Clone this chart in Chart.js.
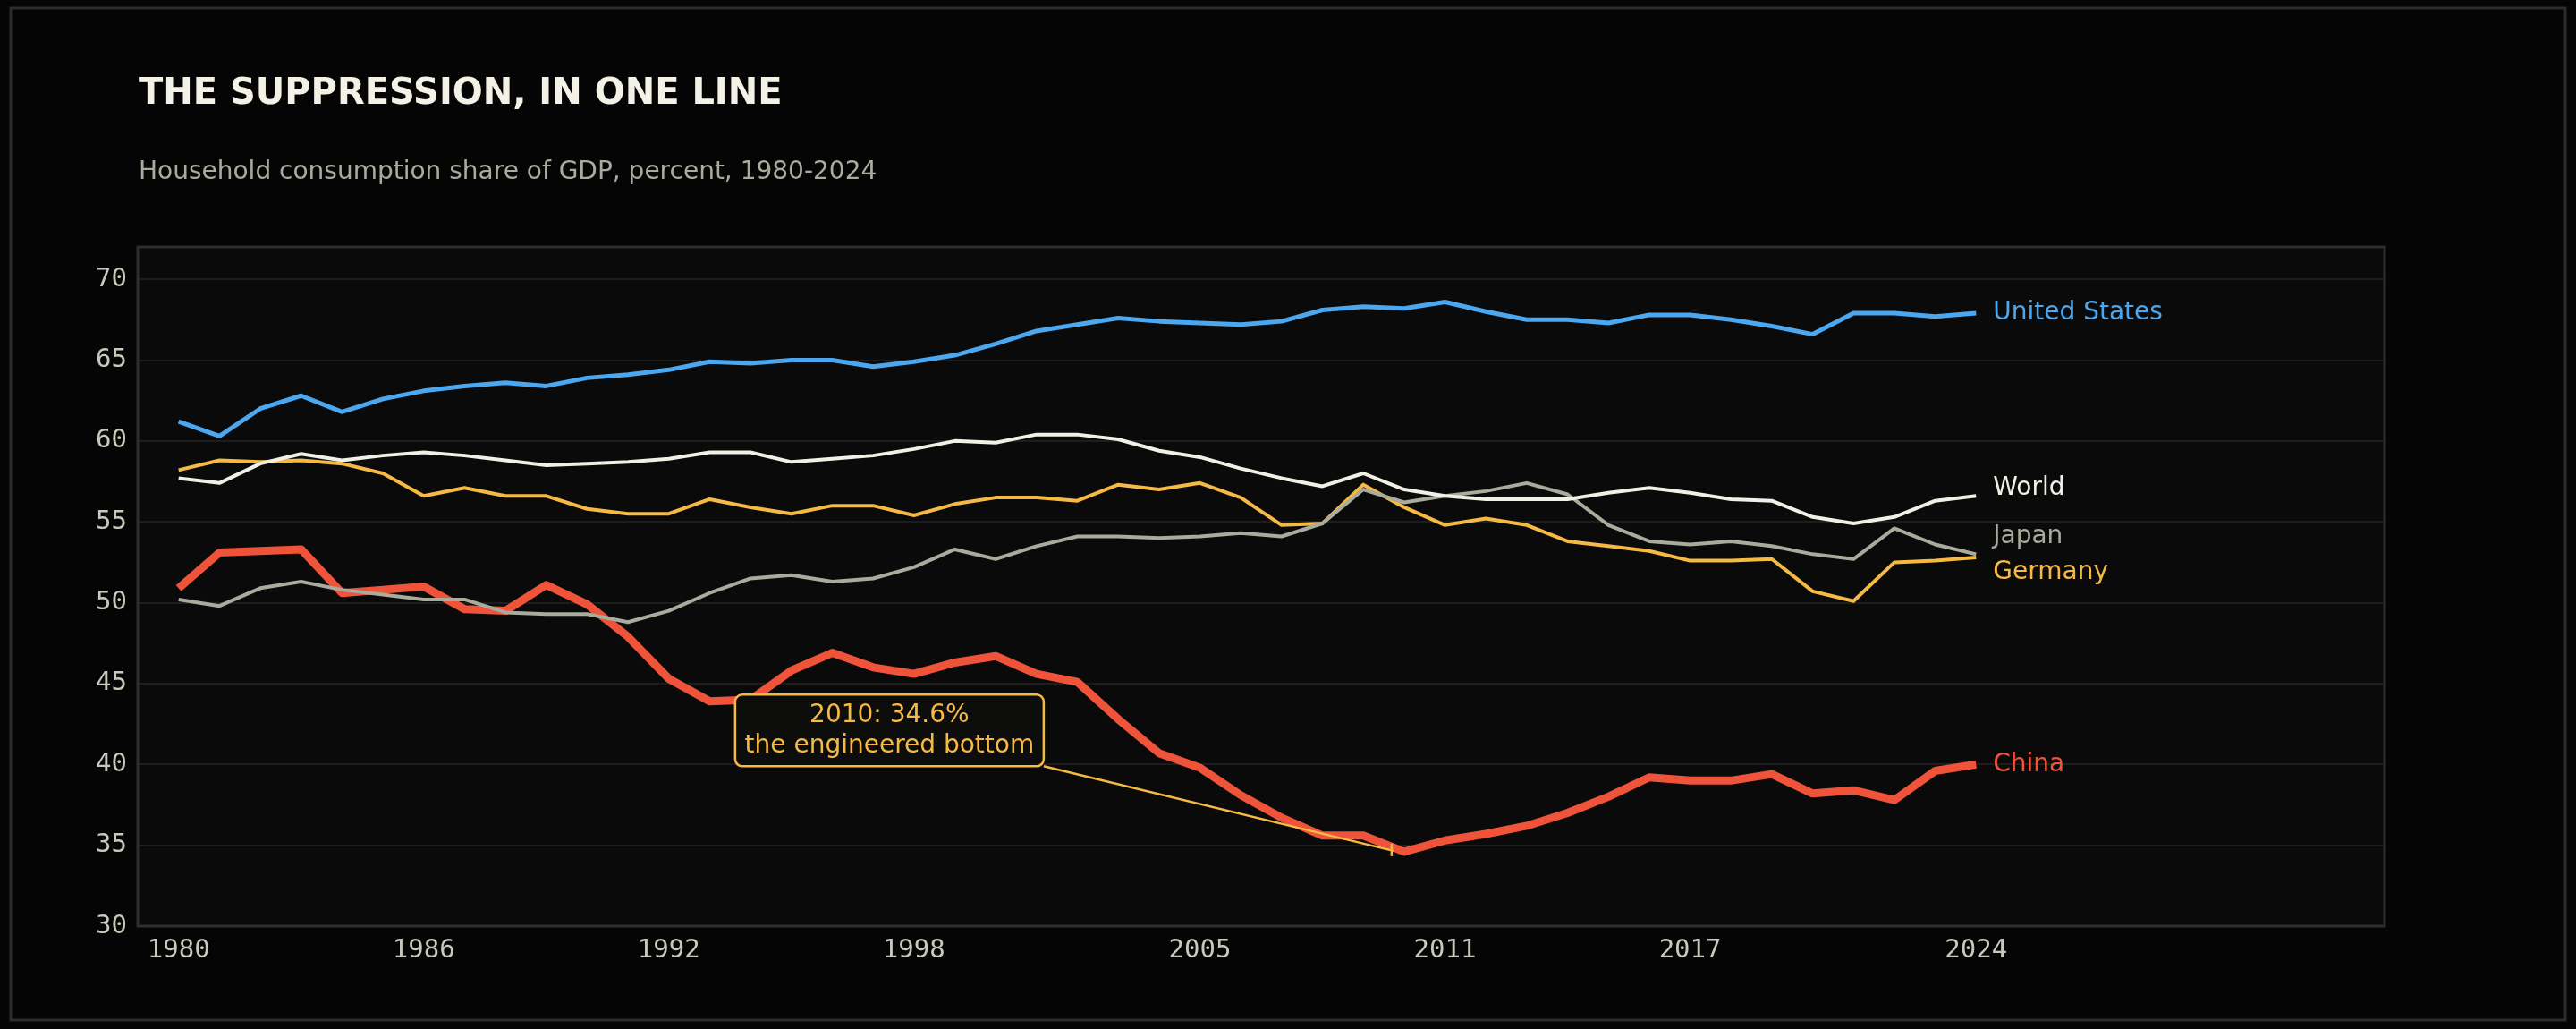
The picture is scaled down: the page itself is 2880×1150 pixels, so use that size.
<!DOCTYPE html>
<html>
<head>
<meta charset="utf-8">
<script src="https://cdn.jsdelivr.net/npm/chart.js@4/dist/chart.umd.min.js"></script>
<style>
  html, body { margin: 0; padding: 0; background: #050505; }
  #wrap { width: 2880px; height: 1150px; }
</style>
</head>
<body>
<div id="wrap"><canvas id="chart" width="2880" height="1150"></canvas></div>
<script>
const years = [];
for (let y = 1980; y <= 2024; y++) years.push(y);

const usValues = [61.2,60.3,62.0,62.8,61.8,62.6,63.1,63.4,63.6,63.4,63.9,64.1,64.4,64.9,64.8,65.0,65.0,64.6,64.9,65.3,66.0,66.8,67.2,67.6,67.4,67.3,67.2,67.4,68.1,68.3,68.2,68.6,68.0,67.5,67.5,67.3,67.8,67.8,67.5,67.1,66.6,67.9,67.9,67.7,67.9];
const worldValues = [57.7,57.4,58.6,59.2,58.8,59.1,59.3,59.1,58.8,58.5,58.6,58.7,58.9,59.3,59.3,58.7,58.9,59.1,59.5,60.0,59.9,60.4,60.4,60.1,59.4,59.0,58.3,57.7,57.2,58.0,57.0,56.6,56.4,56.4,56.4,56.8,57.1,56.8,56.4,56.3,55.3,54.9,55.3,56.3,56.6];
const japanValues = [50.2,49.8,50.9,51.3,50.8,50.5,50.2,50.2,49.4,49.3,49.3,48.8,49.5,50.6,51.5,51.7,51.3,51.5,52.2,53.3,52.7,53.5,54.1,54.1,54.0,54.1,54.3,54.1,54.9,57.0,56.2,56.6,56.9,57.4,56.7,54.8,53.8,53.6,53.8,53.5,53.0,52.7,54.6,53.6,53.0];
const germanyValues = [58.2,58.8,58.7,58.8,58.6,58.0,56.6,57.1,56.6,56.6,55.8,55.5,55.5,56.4,55.9,55.5,56.0,56.0,55.4,56.1,56.5,56.5,56.3,57.3,57.0,57.4,56.5,54.8,54.9,57.3,55.9,54.8,55.2,54.8,53.8,53.5,53.2,52.6,52.6,52.7,50.7,50.1,52.5,52.6,52.8];
const chinaValues = [50.9,53.1,53.2,53.3,50.6,50.8,51.0,49.6,49.5,51.1,49.9,47.9,45.3,43.9,44.0,45.8,46.9,46.0,45.6,46.3,46.7,45.6,45.1,42.8,40.7,39.8,38.1,36.7,35.6,35.6,34.6,35.3,35.7,36.2,37.0,38.0,39.2,39.0,39.0,39.4,38.2,38.4,37.8,39.6,40.0];

const xTicks = [1980, 1986, 1992, 1998, 2005, 2011, 2017, 2024];
const yTicks = [30, 35, 40, 45, 50, 55, 60, 65, 70];

const seriesNames = ['World', 'Japan', 'Germany', 'United States', 'China'];
const seriesData = [worldValues, japanValues, germanyValues, usValues, chinaValues];
const seriesColors = ['#f2f0e6', '#a9ab9d', '#f6b944', '#4aa7f0', '#ef533a'];
const seriesWidths = [4, 4, 4, 5, 9];
const labelNudge = { 'World': 0.5, 'Japan': 1.1, 'Germany': -0.9 };

const annotationTitle = '2010: 34.6%';
const annotationText = 'the engineered bottom';
const annotationYear = 2010;
const annotationValue = 34.6;

const decor = {
  id: 'decor',
  beforeDraw(chart) {
    const ctx = chart.ctx;
    const a = chart.chartArea;
    ctx.save();
    ctx.fillStyle = '#050505';
    ctx.fillRect(0, 0, chart.width, chart.height);
    ctx.strokeStyle = '#2a2d2a';
    ctx.lineWidth = 3;
    ctx.strokeRect(12, 9, 2856, 1131);
    ctx.fillStyle = '#0a0a0a';
    ctx.fillRect(a.left, a.top, a.right - a.left, a.bottom - a.top);
    ctx.fillStyle = '#f4f1e6';
    ctx.font = 'bold 40px "DejaVu Sans"';
    ctx.textBaseline = 'middle';
    ctx.fillText('THE SUPPRESSION, IN ONE LINE', 155, 106);
    ctx.fillStyle = '#a9ab9d';
    ctx.font = '28px "DejaVu Sans"';
    ctx.fillText('Household consumption share of GDP, percent, 1980-2024', 155, 193);
    ctx.restore();
  },
  afterDatasetsDraw(chart) {
    const ctx = chart.ctx;
    const a = chart.chartArea;
    const xs = chart.scales.x, ys = chart.scales.y;
    ctx.save();
    ctx.strokeStyle = '#2c2f2c';
    ctx.lineWidth = 3;
    ctx.strokeRect(a.left, a.top, a.right - a.left, a.bottom - a.top);

    // end labels
    ctx.font = '28px "DejaVu Sans"';
    ctx.textBaseline = 'middle';
    chart.data.datasets.forEach(ds => {
      const last = ds.data[ds.data.length - 1];
      const v = last.y + (labelNudge[ds.label] || 0);
      ctx.fillStyle = ds.borderColor;
      ctx.fillText(ds.label, xs.getPixelForValue(last.x) + 19, ys.getPixelForValue(v));
    });

    // annotation
    const cx = xs.getPixelForValue(1997.4), cy = ys.getPixelForValue(42.1);
    const w = 345, h = 80;
    const bx = cx - w / 2, by = cy - h / 2;
    const px = xs.getPixelForValue(annotationYear) - 12, py = ys.getPixelForValue(annotationValue) - 1;
    ctx.strokeStyle = '#f6b944';
    ctx.lineWidth = 2.5;
    ctx.beginPath();
    ctx.moveTo(bx + w, by + h);
    ctx.lineTo(px, py);
    ctx.stroke();
    ctx.beginPath();
    ctx.moveTo(px - 2, py - 8);
    ctx.lineTo(px - 2, py + 6);
    ctx.stroke();
    ctx.fillStyle = '#0d0d0b';
    ctx.beginPath();
    ctx.roundRect(bx, by, w, h, 8);
    ctx.fill();
    ctx.stroke();
    ctx.fillStyle = '#f6b944';
    ctx.font = '28px "DejaVu Sans"';
    ctx.textAlign = 'center';
    ctx.fillText(annotationTitle, cx, cy - 17);
    ctx.fillText(annotationText, cx, cy + 17);
    ctx.restore();
  }
};

new Chart(document.getElementById('chart'), {
  type: 'line',
  data: {
    datasets: seriesNames.map((name, i) => ({
      label: name,
      data: years.map((yr, j) => ({ x: yr, y: seriesData[i][j] })),
      borderColor: seriesColors[i],
      borderWidth: seriesWidths[i],
      pointRadius: 0,
      tension: 0,
      borderJoinStyle: 'round'
    }))
  },
  options: {
    responsive: false,
    animation: false,
    layout: { padding: { top: 276, right: 214, left: 0, bottom: 0 } },
    plugins: { legend: { display: false }, tooltip: { enabled: false } },
    scales: {
      x: {
        type: 'linear',
        min: 1979,
        max: 2034,
        afterBuildTicks: s => { s.ticks = xTicks.map(v => ({ value: v })); },
        afterFit: s => { s.height = 115; },
        grid: { display: false, drawTicks: false },
        border: { display: false },
        ticks: {
          color: '#c9c8bb',
          font: { family: 'DejaVu Sans Mono', size: 29 },
          padding: 10,
          maxRotation: 0,
          callback: v => String(v)
        }
      },
      y: {
        min: 30,
        max: 72,
        afterBuildTicks: s => { s.ticks = yTicks.map(v => ({ value: v })); },
        afterFit: s => { s.width = 154; },
        grid: { color: '#1d1d1d', lineWidth: 2, drawTicks: false },
        border: { display: false },
        ticks: {
          color: '#c9c8bb',
          font: { family: 'DejaVu Sans Mono', size: 29 },
          padding: 12
        }
      }
    }
  },
  plugins: [decor]
});
</script>
</body>
</html>
